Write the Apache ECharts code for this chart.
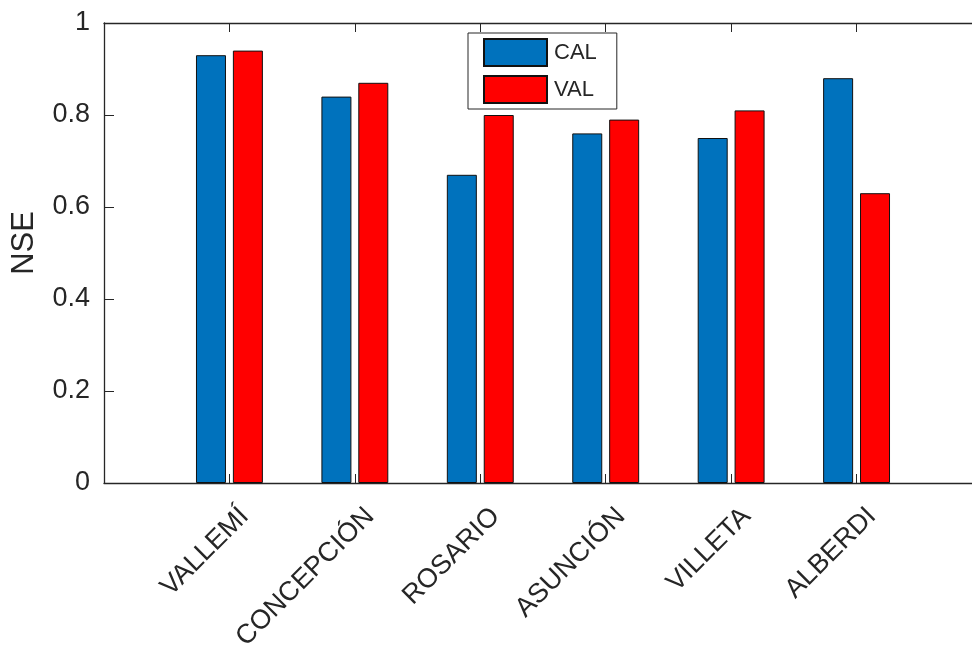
<!DOCTYPE html>
<html>
<head>
<meta charset="utf-8">
<script src="https://cdn.jsdelivr.net/npm/echarts@6/dist/echarts.min.js"></script>
<style>
  html, body { margin: 0; padding: 0; background: #ffffff; }
  #chart { width: 972px; height: 650px; }
</style>
</head>
<body>
<div id="chart"></div>
<script>
// Stations along the river and their NSE scores
const stations = ['VALLEMÍ', 'CONCEPCIÓN', 'ROSARIO', 'ASUNCIÓN', 'VILLETA', 'ALBERDI'];
const calValues = [0.93, 0.84, 0.67, 0.76, 0.75, 0.88];
const valValues = [0.94, 0.87, 0.80, 0.79, 0.81, 0.63];
const seriesNames = ['CAL', 'VAL'];
const yTicks = [0, 0.2, 0.4, 0.6, 0.8, 1];

const FONT = 'Liberation Sans, Arial, Helvetica, sans-serif';
const INK = '#262626';

// Stations sit at x = 1..6 on a 0..7 axis
const toPoints = vals => vals.map((v, i) => [i + 1, v]);

const chart = echarts.init(document.getElementById('chart'), null, { renderer: 'canvas' });

// Shared look of the four frame edges
const frameAxis = () => ({
  axisLine: { show: true, onZero: false, lineStyle: { color: INK, width: 1.3 } },
  splitLine: { show: false }
});

chart.setOption({
  backgroundColor: '#ffffff',
  animation: false,
  textStyle: { fontFamily: FONT },
  // The axes box runs a little past the right edge of the canvas
  grid: { left: 104, top: 23, width: 878, height: 460, containLabel: false, outerBoundsMode: 'none' },
  legend: {
    data: seriesNames,
    orient: 'vertical',
    left: 468,
    top: 33,
    icon: 'rect',
    itemWidth: 63,
    itemHeight: 27,
    itemGap: 8,
    padding: [5, 20, 5, 15],
    backgroundColor: '#ffffff',
    borderColor: INK,
    borderWidth: 1,
    textStyle: { fontFamily: FONT, fontSize: 22, color: INK, padding: [0, 0, 0, 2] }
  },
  xAxis: [
    Object.assign(frameAxis(), {
      type: 'value', position: 'bottom', min: 0, max: 7, interval: 1,
      axisTick: { show: true, inside: true, length: 9, lineStyle: { color: INK } },
      axisLabel: {
        show: true,
        rotate: 45,
        margin: 14,
        verticalAlign: 'top',
        padding: [8, 0, 0, 0],
        fontFamily: FONT,
        fontSize: 27,
        color: INK,
        formatter: v => (v >= 1 && v <= stations.length && Number.isInteger(v)) ? stations[v - 1] : ''
      }
    }),
    Object.assign(frameAxis(), {
      type: 'value', position: 'top', min: 0, max: 7, interval: 1,
      axisTick: { show: true, inside: true, length: 9, lineStyle: { color: INK } },
      axisLabel: { show: false }
    })
  ],
  yAxis: [
    Object.assign(frameAxis(), {
      type: 'value', position: 'left', min: yTicks[0], max: yTicks[yTicks.length - 1], interval: 0.2,
      name: 'NSE',
      nameLocation: 'middle',
      nameGap: 64,
      nameTextStyle: { fontFamily: FONT, fontSize: 31, color: INK, padding: [0, 0, 0, 20] },
      axisTick: { show: true, inside: true, length: 10, lineStyle: { color: INK } },
      axisLabel: {
        margin: 14, fontFamily: FONT, fontSize: 27, color: INK,
        formatter: v => String(Math.round(v * 10) / 10)
      }
    }),
    Object.assign(frameAxis(), {
      type: 'value', position: 'right', min: yTicks[0], max: yTicks[yTicks.length - 1], interval: 0.2,
      axisTick: { show: true, inside: true, length: 10, lineStyle: { color: INK } },
      axisLabel: { show: false }
    })
  ],
  series: [
    {
      name: seriesNames[0],
      type: 'bar',
      xAxisIndex: 0, yAxisIndex: 0,
      data: toPoints(calValues),
      barWidth: 30,
      barGap: '23%',
      itemStyle: { color: '#0072BD', borderColor: '#111111', borderWidth: 1 }
    },
    {
      name: seriesNames[1],
      type: 'bar',
      xAxisIndex: 0, yAxisIndex: 0,
      data: toPoints(valValues),
      barWidth: 30,
      barGap: '23%',
      itemStyle: { color: '#FF0000', borderColor: '#111111', borderWidth: 1 }
    }
  ]
});
</script>
</body>
</html>
